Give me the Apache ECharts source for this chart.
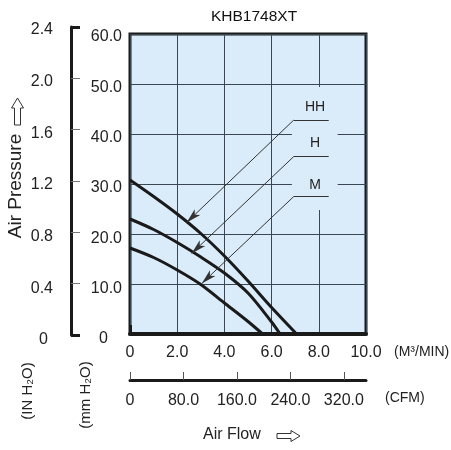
<!DOCTYPE html>
<html>
<head>
<meta charset="utf-8">
<script src="https://cdn.jsdelivr.net/npm/echarts@6/dist/echarts.min.js"></script>
<style>
html,body{margin:0;padding:0;background:#fff}
#container{width:451px;height:450px}
</style>
</head>
<body>
<div id="container"></div>
<script>
// air flow (M3/MIN) / static pressure (mm H2O)
var flowHH = [0, 1, 2, 3, 4, 5, 6, 7.06];
var presHH = [30.8, 27.5, 24.0, 20.1, 15.6, 10.6, 5.3, 0];
var flowH = [0, 1, 2, 3, 4, 5, 6, 6.36];
var presH = [23.0, 20.9, 18.3, 15.4, 12.2, 8.2, 2.4, 0];
var flowM = [0, 1, 2, 3, 4, 5, 5.62];
var presM = [17.2, 15.3, 12.8, 9.9, 6.2, 2.5, 0];

var curveNames = ['HH', 'H', 'M'];
// label anchor, underline height and arrow tip, in data units
var labelAt = [[7.84, 45.4], [7.84, 38.2], [7.84, 29.8]];
var underlineY = [42.8, 35.5, 27.5];
var arrowTip = [[2.40, 22.3], [2.61, 16.1], [3.04, 10.1]];
var underlineX = [6.94, 8.42];

var cfmTicks = [0, 80, 160, 240, 320];
var cfmPerM3 = 35.31;

var bg = '#daebf9';
var ink = '#1a1a1a';
var txt = '#222';
var font = 'Liberation Sans, Arial, sans-serif';

function fmt(v) {
    return v === 0 ? '0' : v.toFixed(1);
}
// left axes print their zero a bit away from the other numbers
function fmtLeft(v) {
    return v === 0 ? '{z|0}' : v.toFixed(1);
}
function pairs(xs, ys) {
    return xs.map(function (x, i) { return [x, ys[i]]; });
}

var dom = document.getElementById('container');
var myChart = echarts.init(dom);

var flows = [flowHH, flowH, flowM];
var press = [presHH, presH, presM];

// light box behind the curve names, hides the grid there
var series = [{
    type: 'line',
    data: [],
    z: 1,
    silent: true,
    markArea: {
        silent: true,
        itemStyle: {color: bg, opacity: 1},
        data: [[{coord: [6.86, 49.4]}, {coord: [8.8, 24.8]}]]
    }
}];

for (var i = 0; i < 3; i++) {
    series.push({
        type: 'line',
        name: curveNames[i],
        data: pairs(flows[i], press[i]),
        smooth: 0.3,
        symbol: 'none',
        lineStyle: {color: ink, width: 3},
        emphasis: {disabled: true},
        markLine: {
            silent: true,
            animation: false,
            symbol: 'none',
            label: {show: false},
            emphasis: {disabled: true},
            lineStyle: {color: '#333', width: 1, type: 'solid'},
            data: [
                [{coord: [underlineX[0], underlineY[i]]}, {coord: [underlineX[1], underlineY[i]]}],
                [{coord: [underlineX[0], underlineY[i]]},
                 {coord: arrowTip[i], symbol: 'arrow', symbolSize: [6, 15]}]
            ]
        },
        markPoint: {
            silent: true,
            animation: false,
            symbol: 'rect',
            symbolSize: 0,
            label: {show: true, position: 'inside', formatter: curveNames[i], color: txt, fontSize: 14, fontFamily: font},
            data: [{coord: labelAt[i]}]
        }
    });
}

var labelStyle = {fontSize: 16, color: txt, fontFamily: font, formatter: fmt};
var hollow = {fill: '#fff', stroke: '#333', lineWidth: 1};

var option = {
    animation: false,
    title: {
        text: 'KHB1748XT',
        left: 206,
        top: 4,
        textStyle: {fontSize: 15.5, fontWeight: 'normal', color: '#111', fontFamily: font}
    },
    grid: [
        {left: 130, top: 34, width: 236, height: 300, show: true, backgroundColor: bg, borderColor: ink, borderWidth: 3},
        {left: 71, top: 27, width: 10, height: 308, show: false},
        // label-only grids, the printed numbers sit a little below their ticks
        {left: 130, top: 37, width: 236, height: 302, show: false},
        {left: 71, top: 30, width: 10, height: 310, show: false}
    ],
    xAxis: [
        {
            type: 'value', gridIndex: 0, min: 0, max: 10, interval: 2, position: 'bottom',
            axisLine: {show: true, onZero: false, lineStyle: {color: ink, width: 4}},
            axisTick: {show: false},
            axisLabel: Object.assign({margin: 11}, labelStyle),
            splitLine: {show: true, lineStyle: {color: '#3a4652', width: 1}}
        },
        {
            type: 'value', gridIndex: 0, min: 0, max: 10 * cfmPerM3, position: 'bottom', offset: 46,
            axisLine: {show: true, onZero: false, lineStyle: {color: ink, width: 3}},
            axisTick: {show: true, inside: true, length: 8, customValues: cfmTicks, lineStyle: {color: '#555', width: 1}},
            axisLabel: Object.assign({margin: 13, customValues: cfmTicks}, labelStyle),
            splitLine: {show: false}
        },
        {
            type: 'value', gridIndex: 0, min: 0, max: 10 * cfmPerM3, position: 'bottom', offset: 46,
            axisLine: {show: false},
            axisTick: {show: true, inside: true, length: 9, customValues: [0], lineStyle: {color: ink, width: 3}},
            axisLabel: {show: false},
            splitLine: {show: false}
        },
        {type: 'value', gridIndex: 1, show: false, min: 0, max: 1},
        {type: 'value', gridIndex: 2, show: false, min: 0, max: 1},
        {type: 'value', gridIndex: 3, show: false, min: 0, max: 1}
    ],
    yAxis: [
        {
            type: 'value', gridIndex: 0, min: 0, max: 60, interval: 10, position: 'left',
            axisLine: {show: false},
            axisTick: {show: false},
            axisLabel: {show: false},
            splitLine: {show: true, lineStyle: {color: '#3a4652', width: 1}}
        },
        {
            type: 'value', gridIndex: 1, min: 0, max: 2.4, interval: 0.4, position: 'left',
            axisLine: {show: true, onZero: false, lineStyle: {color: ink, width: 3}},
            axisTick: {show: true, inside: true, length: 9, lineStyle: {color: '#777', width: 1}},
            axisLabel: {show: false},
            splitLine: {show: false}
        },
        {
            type: 'value', gridIndex: 1, min: 0, max: 2.4, position: 'left',
            axisLine: {show: false},
            axisTick: {show: true, inside: true, length: 9, customValues: [0, 2.4], lineStyle: {color: ink, width: 3}},
            axisLabel: {show: false},
            splitLine: {show: false}
        },
        {
            type: 'value', gridIndex: 2, min: 0, max: 60, interval: 10, position: 'left',
            axisLine: {show: false}, axisTick: {show: false}, splitLine: {show: false},
            axisLabel: Object.assign({}, labelStyle, {margin: 8, formatter: fmtLeft,
                rich: {z: {fontSize: 16, color: txt, fontFamily: font, padding: [0, 14, 0, 0]}}})
        },
        {
            type: 'value', gridIndex: 3, min: 0, max: 2.4, interval: 0.4, position: 'left',
            axisLine: {show: false}, axisTick: {show: false}, splitLine: {show: false},
            axisLabel: Object.assign({}, labelStyle, {margin: 18, formatter: fmtLeft,
                rich: {z: {fontSize: 16, color: txt, fontFamily: font, padding: [0, 5, 0, 0]}}})
        }
    ],
    graphic: [
        {type: 'text', left: 394, top: 345, style: {text: '(M³/MIN)', font: '14px ' + font, fill: txt}},
        {type: 'text', left: 385, top: 391, style: {text: '(CFM)', font: '14px ' + font, fill: txt}},
        {type: 'text', left: 203, top: 427, style: {text: 'Air Flow', font: '16px ' + font, fill: txt}},
        {type: 'polygon', shape: {points: [[277, 433.5], [291, 433.5], [291, 430.5], [300, 436], [291, 441.5], [291, 438.5], [277, 438.5]]}, style: hollow},
        {type: 'text', x: 16, y: 186, rotation: Math.PI / 2, style: {
            text: 'Air Pressure', align: 'center', verticalAlign: 'middle', font: '19px ' + font, fill: txt}},
        {type: 'polygon', shape: {points: [[14.5, 125], [14.5, 108], [11.5, 108], [17.5, 98], [23.5, 108], [20.5, 108], [20.5, 125]]}, style: hollow},
        {type: 'text', x: 28, y: 391, rotation: Math.PI / 2, style: {
            text: '(IN H₂O)', align: 'center', verticalAlign: 'middle', font: '15px ' + font, fill: txt}},
        {type: 'text', x: 86, y: 395, rotation: Math.PI / 2, style: {
            text: '(mm H₂O)', align: 'center', verticalAlign: 'middle', font: '15px ' + font, fill: txt}}
    ],
    series: series
};
myChart.setOption(option, true);
</script>
</body>
</html>
